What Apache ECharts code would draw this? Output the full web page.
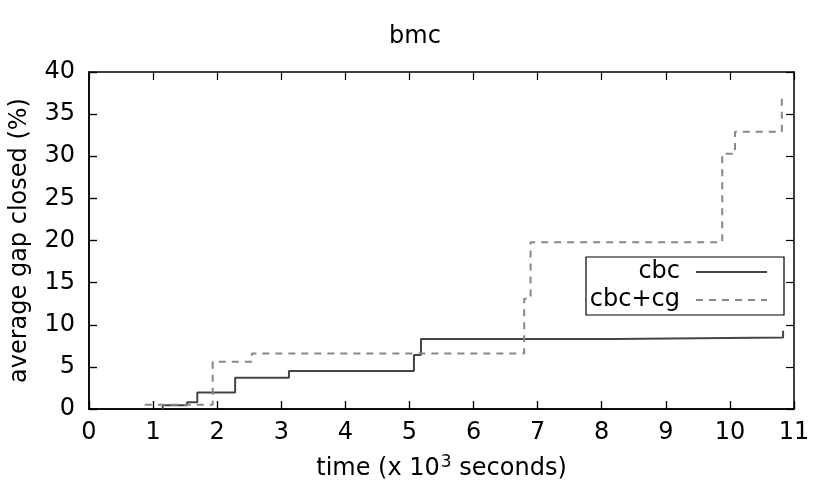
<!DOCTYPE html>
<html>
<head>
<meta charset="utf-8">
<script src="https://cdn.jsdelivr.net/npm/echarts@6/dist/echarts.min.js"></script>
<style>
  html, body { margin: 0; padding: 0; background: #fff; }
  #chart { width: 830px; height: 498px; }
</style>
</head>
<body>
<div id="chart"></div>
<script>
// step data: [time (x 10^3 s), average gap closed (%)]
const cbc = [
  [1.15, 0], [1.15, 0.45], [1.53, 0.8], [1.69, 1.97], [2.28, 3.7],
  [3.12, 4.5], [5.07, 6.4], [5.18, 8.3], [8.2, 8.5], [10.83, 9.3]
]
const cbcCg = [
  [0.87, 0.5], [1.93, 5.6], [2.54, 6.6], [6.79, 13.1], [6.89, 19.8],
  [9.88, 30.3], [10.08, 32.9], [10.81, 37.0]
]

const font = 'DejaVu Sans'
const fontSize = 24

const chart = echarts.init(document.getElementById('chart'), null, { renderer: 'canvas' })

// gnuplot style: ticks pointing into the plot on all four sides
const tick = () => ({ show: true, inside: true, length: 8, lineStyle: { color: '#000', width: 1.2 } })
const axisLine = () => ({ show: true, onZero: false, lineStyle: { color: '#000', width: 1.5 } })
// plain axis that only carries the border line and inward ticks
const frameX = (position) => ({
  type: 'value', min: 0, max: 11, interval: 1, position,
  axisLine: axisLine(), axisTick: tick(),
  axisLabel: { show: false }, splitLine: { show: false },
})
const frameY = (position) => ({
  type: 'value', min: 0, max: 40, interval: 5, position,
  axisLine: axisLine(), axisTick: tick(),
  axisLabel: { show: false }, splitLine: { show: false },
})

chart.setOption({
  animation: false,
  backgroundColor: '#fff',
  textStyle: { fontFamily: font },
  title: {
    text: 'bmc',
    left: 'center',
    top: 20,
    textStyle: { fontFamily: font, fontSize: 24, fontWeight: 'normal', color: '#000' },
  },
  grid: { left: 87.5, right: 36, top: 72, bottom: 89, containLabel: false },
  legend: {
    orient: 'vertical',
    left: 586,
    top: 257,
    align: 'right',
    backgroundColor: '#fff',
    borderColor: '#000',
    borderWidth: 1.2,
    borderRadius: 0,
    padding: [3, 16, 3, 2],
    itemWidth: 71,
    itemHeight: 14,
    itemGap: 4,
    itemStyle: { opacity: 0 },
    textStyle: {
      fontFamily: font, fontSize: fontSize, color: '#000',
      width: 92, align: 'right', padding: [0, 11, 0, 0], lineHeight: 24,
    },
    data: ['cbc', 'cbc+cg'],
  },
  xAxis: [
    {
      type: 'value', min: 0, max: 11, interval: 1,
      name: '{a|time (x 10}{s|3}{a| seconds)}',
      nameLocation: 'middle', nameGap: 46,
      nameTextStyle: {
        fontFamily: font, fontSize: fontSize, color: '#000',
        rich: {
          a: { fontFamily: font, fontSize: fontSize, color: '#000', lineHeight: 28 },
          s: { fontFamily: font, fontSize: 17, color: '#000', lineHeight: 28, padding: [0, 0, 12, 1] },
        },
      },
      axisLine: axisLine(), axisTick: tick(),
      axisLabel: { fontFamily: font, fontSize: fontSize, color: '#000', margin: 12 },
      splitLine: { show: false },
    },
    frameX('top'),
    frameX('bottom'),
  ],
  yAxis: [
    {
      type: 'value', min: 0, max: 40, interval: 5,
      name: 'average gap closed (%)',
      nameLocation: 'middle', nameGap: 57,
      nameTextStyle: { fontFamily: font, fontSize: fontSize, color: '#000' },
      axisLine: axisLine(), axisTick: tick(),
      axisLabel: { fontFamily: font, fontSize: fontSize, color: '#000', margin: 14 },
      splitLine: { show: false },
    },
    frameY('right'),
    frameY('left'),
  ],
  series: [
    {
      name: 'cbc',
      type: 'line',
      step: 'end',
      data: cbc,
      symbol: 'none',
      itemStyle: { color: '#444' },
      lineStyle: { color: '#444', width: 2 },
    },
    {
      name: 'cbc+cg',
      type: 'line',
      step: 'end',
      data: cbcCg,
      symbol: 'none',
      itemStyle: { color: '#888' },
      lineStyle: { color: '#888', width: 2, type: [7, 6] },
    },
  ],
})
</script>
</body>
</html>
